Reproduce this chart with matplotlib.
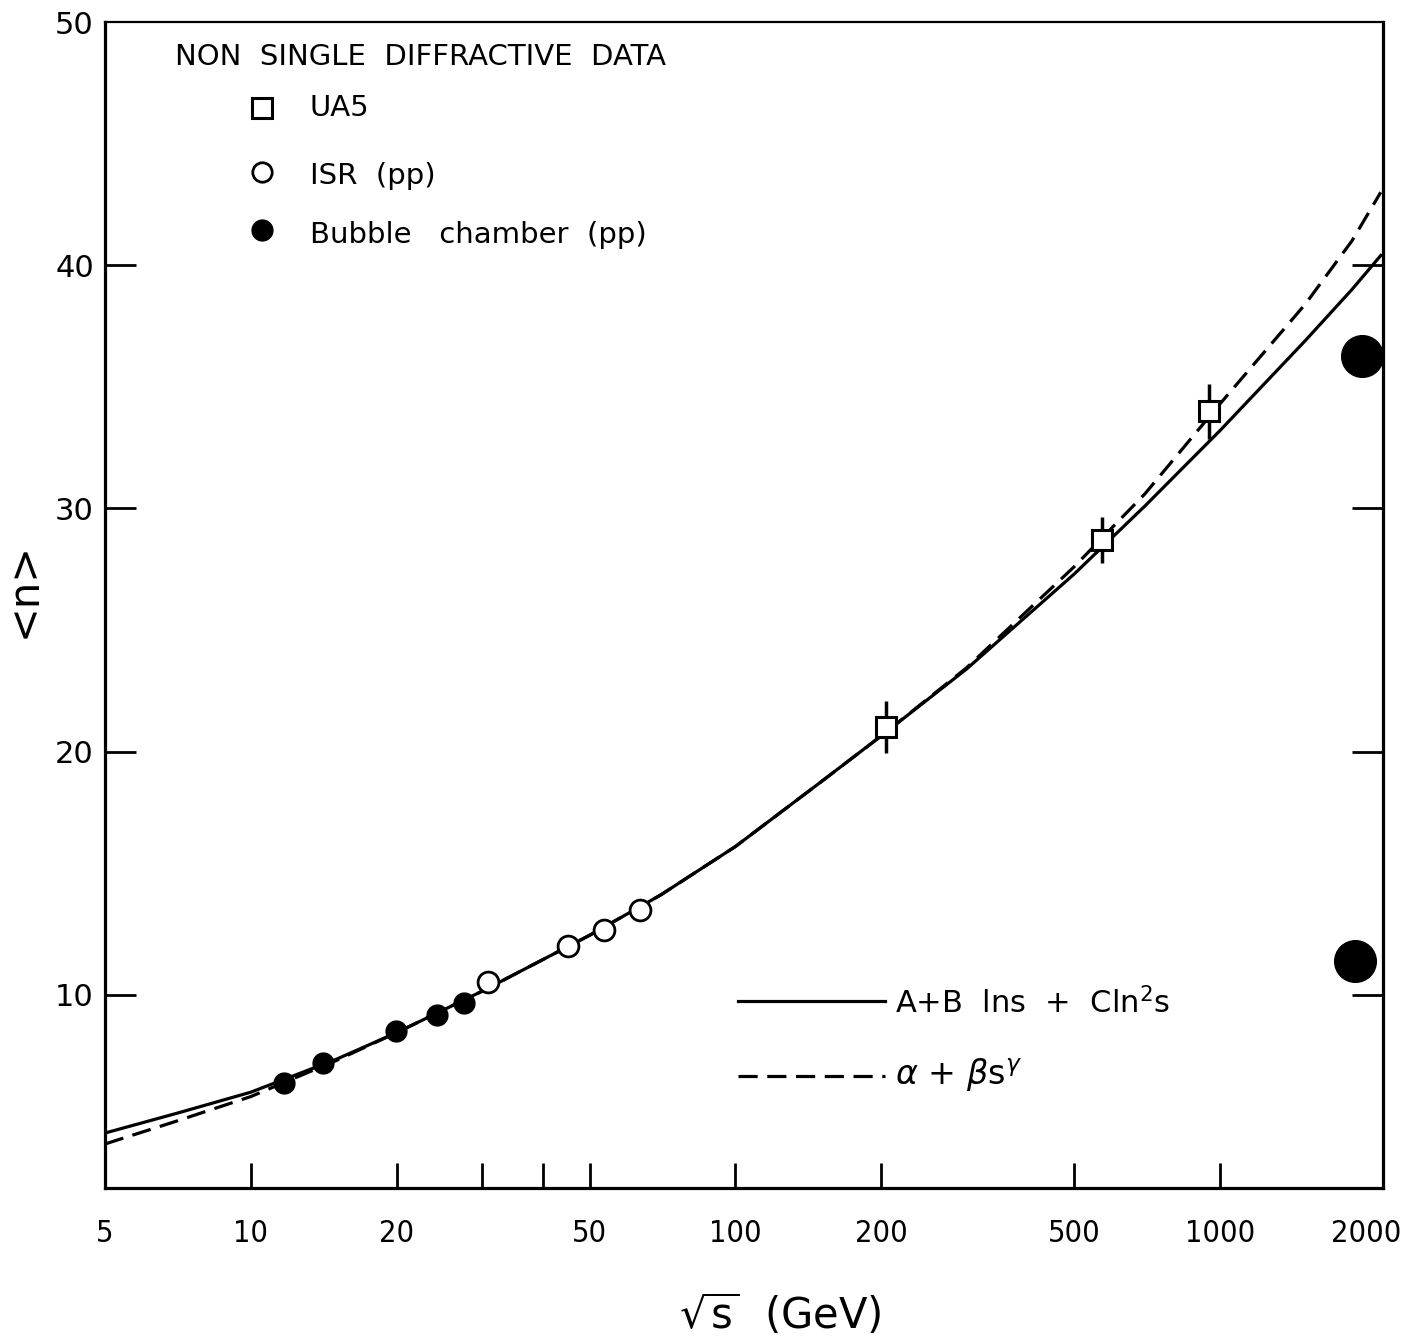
import matplotlib
matplotlib.use("Agg")
import matplotlib.pyplot as plt
from matplotlib.lines import Line2D
from matplotlib.ticker import NullLocator, NullFormatter, FixedLocator

# data
bubble_x = [11.7, 14.1, 19.9, 24.2, 27.5]
bubble_y = [6.38, 7.2, 8.52, 9.18, 9.67]

isr_x = [30.8, 45.2, 53.5, 63.4]
isr_y = [10.53, 12.0, 12.67, 13.5]

ua5_x = [205, 570, 950]
ua5_y = [21.0, 28.7, 34.0]
ua5_err = [1.07, 0.93, 1.13]

big_x = [1963, 1897]
big_y = [36.25, 11.4]

# solid curve  A + B ln s + C ln^2 s
fit1_x = [5, 7, 10, 15, 20, 30, 50, 70, 100, 150, 200, 300, 500, 700, 1000, 1500, 1872, 2147]
fit1_y = [4.32, 5.12, 6.0, 7.35, 8.45, 10.15, 12.45, 14.1, 16.1, 18.75, 20.65, 23.4, 27.3,
          30.1, 33.2, 36.9, 39.0, 40.4]

# dashed curve  alpha + beta s^gamma
fit2_x = [5, 7, 10, 15, 20, 30, 50, 70, 100, 150, 200, 300, 500, 700, 1000, 1500, 1872, 2147]
fit2_y = [3.87, 4.8, 5.82, 7.3, 8.45, 10.15, 12.45, 14.1, 16.1, 18.75, 20.65, 23.45, 27.6,
          30.6, 34.3, 38.4, 41.0, 43.0]

xtick_vals = [5, 10, 20, 50, 100, 200, 500, 1000, 2000]
xminor_vals = [30, 40]
ytick_vals = [10, 20, 30, 40, 50]

plt.rcParams['font.family'] = ['DejaVu Sans']

W, H = 1408, 1342
fig = plt.figure(figsize=(W / 100, H / 100), dpi=100)
ax = fig.add_axes([105 / W, 1 - 1188 / H, 1278 / W, (1188 - 22) / H])
ax.set_xscale('log')
ax.set_xlim(5, 2170)
ax.set_ylim(2.06, 50)

ax.plot(fit1_x, fit1_y, color='black', lw=2.3)
ax.plot(fit2_x, fit2_y, color='black', lw=2.3, ls=(0, (6, 3)))

ax.errorbar(ua5_x, ua5_y, yerr=ua5_err, fmt='none', ecolor='black', elinewidth=2.5, capsize=0)
ax.plot(ua5_x, ua5_y, 's', ms=15, mfc='white', mec='black', mew=2.2)
ax.plot(isr_x, isr_y, 'o', ms=15, mfc='white', mec='black', mew=2.0)
ax.plot(bubble_x, bubble_y, 'o', ms=15, mfc='black', mec='black')
ax.plot(big_x, big_y, 'o', ms=30, mfc='black', mec='black', clip_on=False)

# axes styling
for sp in ax.spines.values():
    sp.set_linewidth(2.3)
ax.spines['top'].set_linewidth(1.6)

ax.set_xticks(xtick_vals)
ax.set_xticklabels([str(v) for v in xtick_vals], fontsize=22, fontstretch='condensed')
ax.xaxis.set_minor_locator(FixedLocator(xminor_vals))
ax.xaxis.set_minor_formatter(NullFormatter())
ax.tick_params(axis='x', which='both', direction='in', length=18, width=2.0, pad=22, top=False)
for t in ax.xaxis.get_major_ticks():
    if t.get_loc() in (5, 2000):
        t.tick1line.set_visible(False)

ax.set_yticks(ytick_vals)
ax.set_yticklabels([str(v) for v in ytick_vals], fontsize=22)
ax.yaxis.set_minor_locator(NullLocator())
ax.tick_params(axis='y', direction='in', length=22, width=2.0, pad=8, right=True)
for t in ax.yaxis.get_major_ticks():
    if t.get_loc() == 50:
        t.tick1line.set_visible(False)
        t.tick2line.set_visible(False)

ax.set_xlabel(r'$\sqrt{\mathrm{s}}$  (GeV)', fontsize=30)
ax.xaxis.set_label_coords((780 - 105) / 1278, -(1292 - 1188) / 1166)
fig.text(24 / W, 1 - 590 / H, '<n>', fontsize=30, rotation=90, ha='center', va='center')

# data legend, drawn as in the original
fig.text(175 / W, 1 - 57 / H, 'NON  SINGLE  DIFFRACTIVE  DATA', fontsize=21, va='center', ha='left')
fig.text(310 / W, 1 - 108 / H, 'UA5', fontsize=21, va='center', ha='left')
fig.text(310 / W, 1 - 176 / H, 'ISR  (pp)', fontsize=21, va='center', ha='left')
fig.text(310 / W, 1 - 235 / H, 'Bubble   chamber  (pp)', fontsize=21, va='center', ha='left')
fig.lines.append(Line2D([262 / W], [1 - 108 / H], marker='s', ms=14, mfc='white', mec='black',
                        mew=2.2, transform=fig.transFigure))
fig.lines.append(Line2D([262 / W], [1 - 172 / H], marker='o', ms=14, mfc='white', mec='black',
                        mew=2.0, transform=fig.transFigure))
fig.lines.append(Line2D([262 / W], [1 - 230 / H], marker='o', ms=15, mfc='black', mec='black',
                        transform=fig.transFigure))

# curve legend
fig.lines.append(Line2D([738 / W, 885 / W], [1 - 1001 / H] * 2, color='black', lw=2.3,
                        transform=fig.transFigure))
fig.lines.append(Line2D([738 / W, 885 / W], [1 - 1076 / H] * 2, color='black', lw=2.3,
                        ls=(0, (6, 3)), transform=fig.transFigure))
fig.text(895 / W, 1 - 1003 / H, r'A+B  lns  +  Cln$^2$s', fontsize=22, va='center', ha='left')
fig.text(895 / W, 1 - 1075 / H, r'$\alpha$ + $\beta$s$^{\gamma}$', fontsize=24, va='center', ha='left')

fig.savefig('out.png', dpi=100)
